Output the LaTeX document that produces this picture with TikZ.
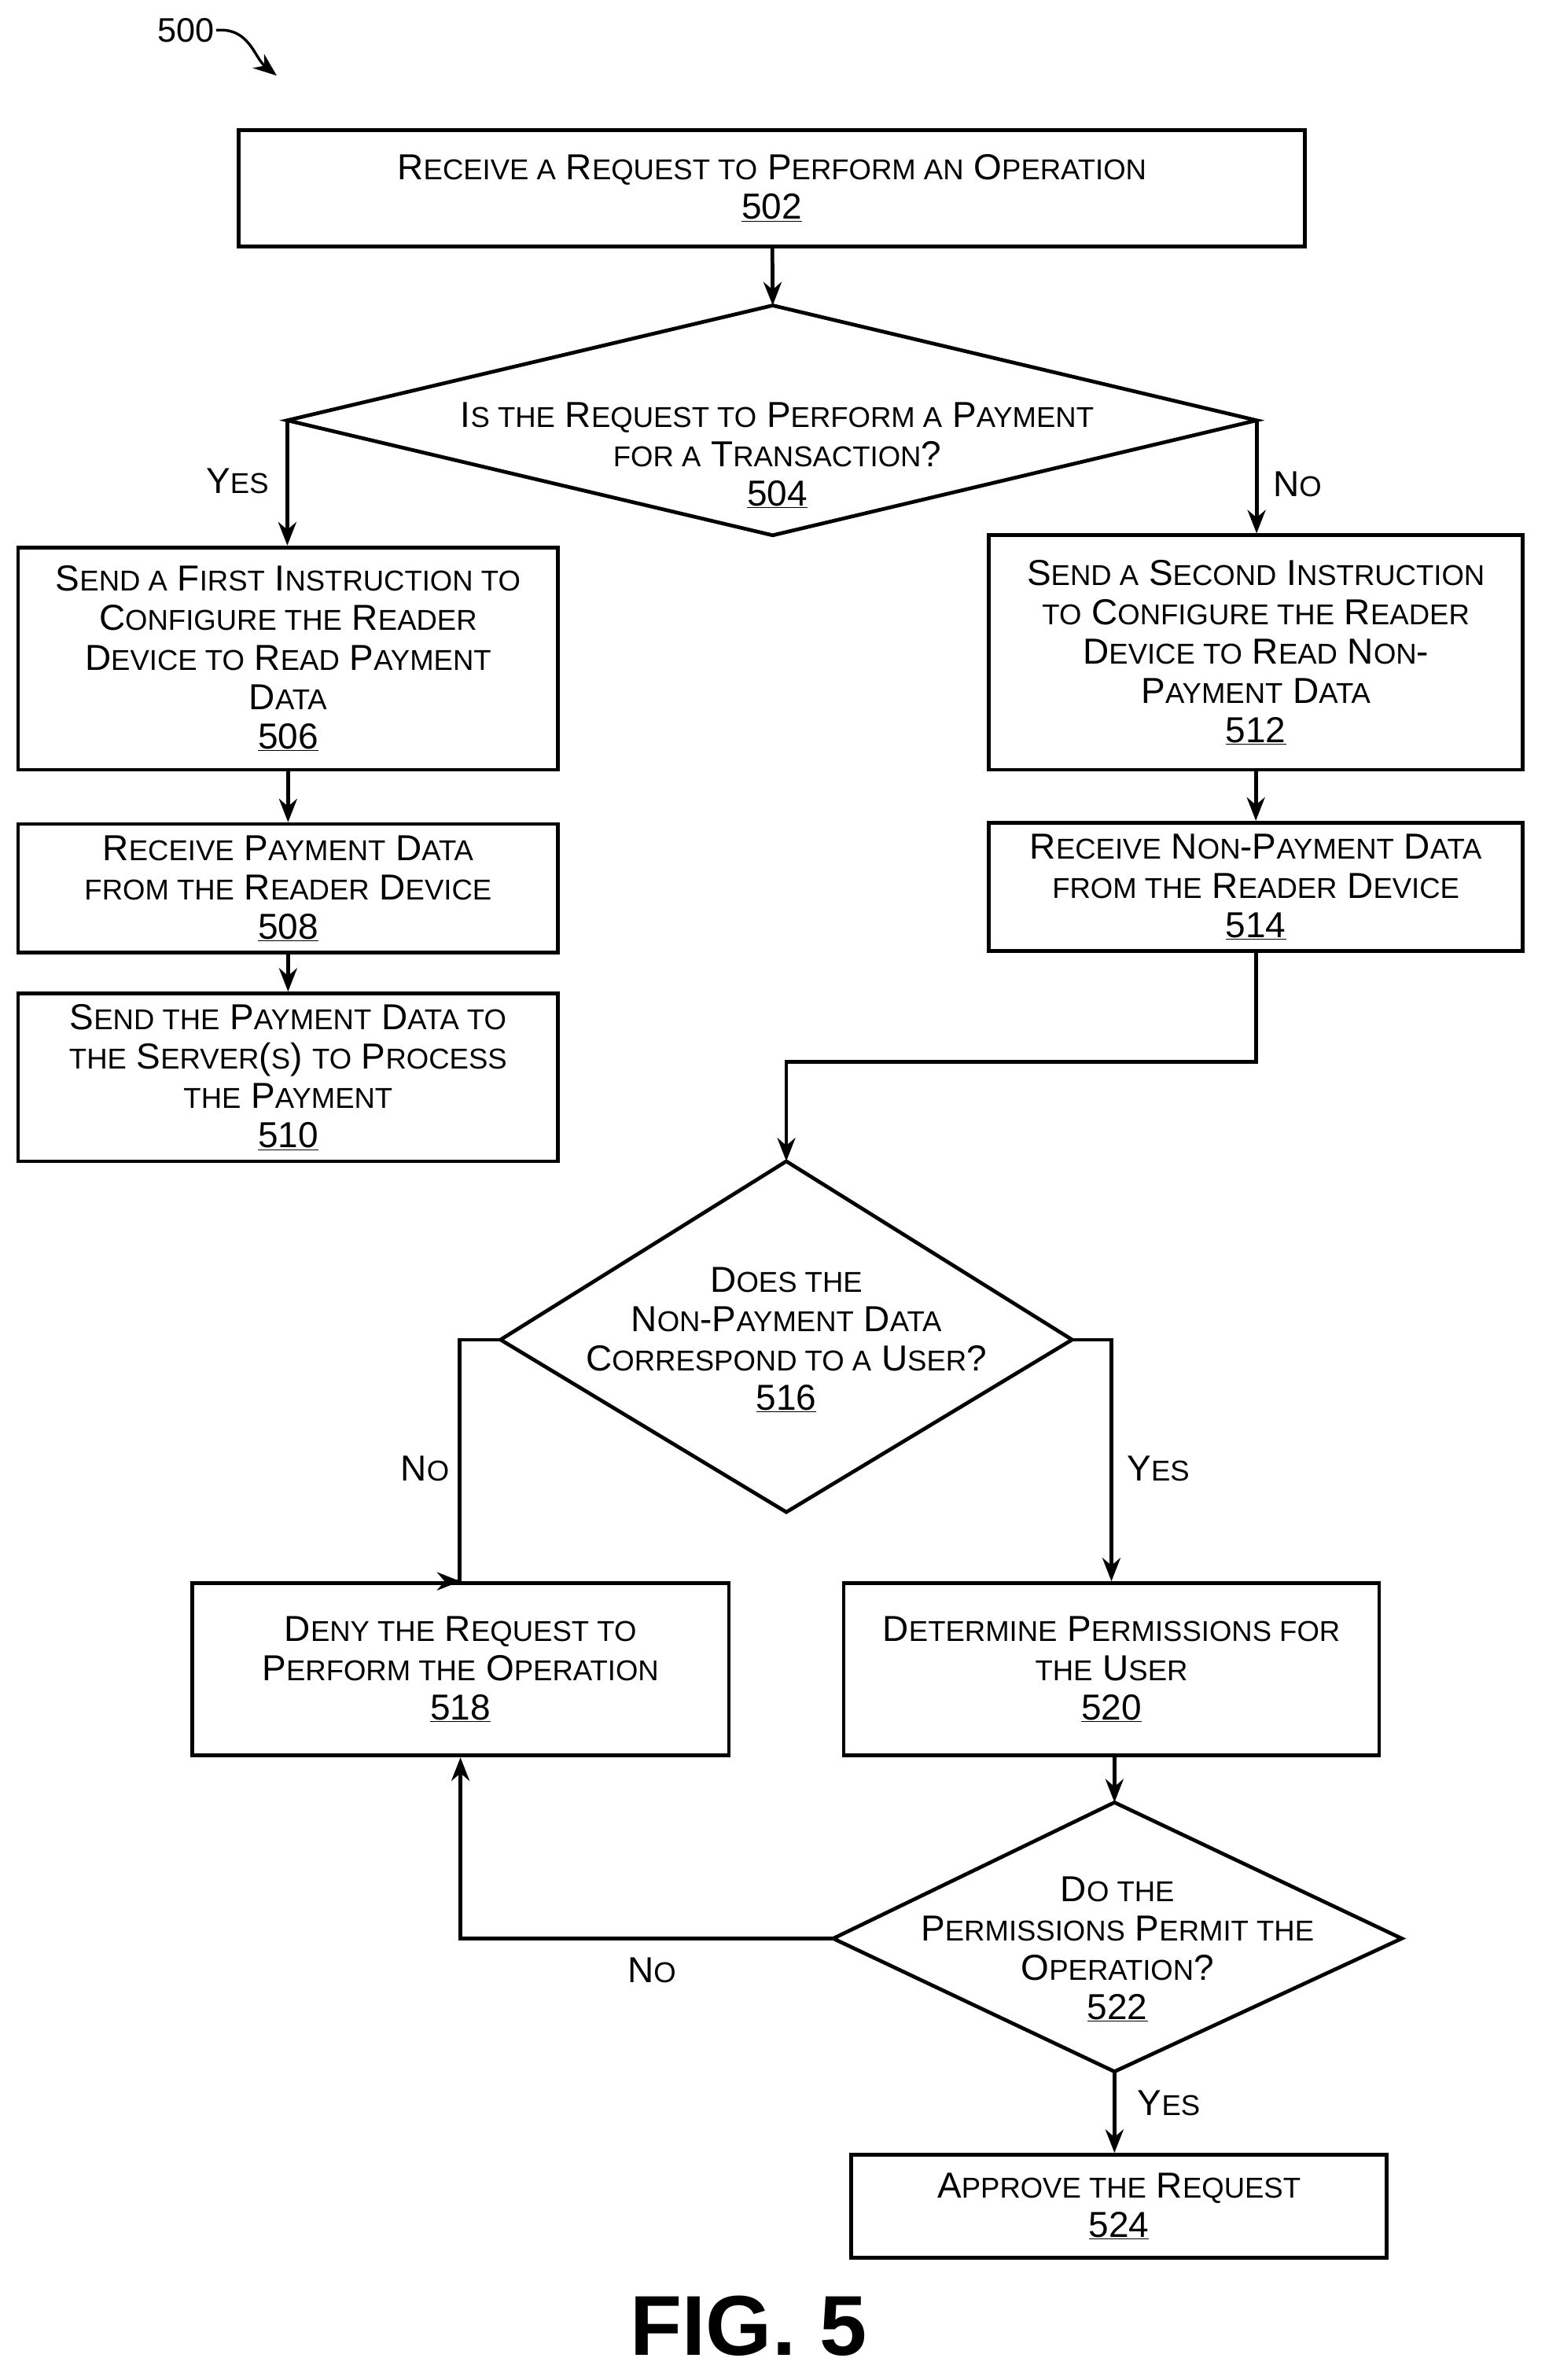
\documentclass[tikz,border=0pt]{standalone}
\usepackage{fontspec}
\setmainfont{Liberation Sans}
\usetikzlibrary{arrows.meta}
\newcommand\sm[1]{{\fontsize{27}{37}\selectfont\uppercase{#1}}}
\def\u{0.05cm}
\begin{document}
\begin{tikzpicture}[x=0.05cm,y=-0.05cm,
  line width=3.5pt,
  arr/.style={-{Stealth[length=22pt,width=17pt]}},
  txt/.style={font=\fontsize{34}{37}\selectfont, align=center, inner sep=0pt},
  box/.style={draw, txt, minimum width=#1},
  lab/.style={font=\fontsize{34}{37}\selectfont, inner sep=0pt}]
\useasboundingbox (0,0) rectangle (1024,1574);
% label 500
\node[font=\fontsize{32}{36}\selectfont, inner sep=0pt] (l500) at (123,20) {500};
\coordinate (l500e) at (183,50);
\draw[arr, line width=2.5pt] (l500.east) .. controls (165,18) and (168,38) .. (l500e);
% boxes
\node[box=705*\u, minimum height=77*\u] (b502) at (510.5,124.5) {R\sm{eceive a} R\sm{equest to} P\sm{erform an} O\sm{peration}\\\underline{502}};
\node[box=357*\u, minimum height=147*\u] (b506) at (190.5,435.5) {S\sm{end a} F\sm{irst} I\sm{nstruction to}\\C\sm{onfigure the} R\sm{eader}\\D\sm{evice to} R\sm{ead} P\sm{ayment}\\D\sm{ata}\\\underline{506}};
\node[box=357*\u, minimum height=85*\u] (b508) at (190.5,587.5) {R\sm{eceive} P\sm{ayment} D\sm{ata}\\\sm{from the} R\sm{eader} D\sm{evice}\\\underline{508}};
\node[box=357*\u, minimum height=111*\u] (b510) at (190.5,712.5) {S\sm{end the} P\sm{ayment} D\sm{ata to}\\\sm{the} S\sm{erver}(\sm{s}) \sm{to} P\sm{rocess}\\\sm{the} P\sm{ayment}\\\underline{510}};
\node[box=353*\u, minimum height=155*\u] (b512) at (830.5,431.5) {S\sm{end a} S\sm{econd} I\sm{nstruction}\\\sm{to} C\sm{onfigure the} R\sm{eader}\\D\sm{evice to} R\sm{ead} N\sm{on}-\\P\sm{ayment} D\sm{ata}\\\underline{512}};
\node[box=353*\u, minimum height=85*\u] (b514) at (830.5,586.5) {R\sm{eceive} N\sm{on}-P\sm{ayment} D\sm{ata}\\\sm{from the} R\sm{eader} D\sm{evice}\\\underline{514}};
\node[box=355*\u, minimum height=114*\u] (b518) at (304.5,1104) {D\sm{eny the} R\sm{equest to}\\P\sm{erform the} O\sm{peration}\\\underline{518}};
\node[box=354*\u, minimum height=114*\u] (b520) at (735,1104) {D\sm{etermine} P\sm{ermissions for}\\\sm{the} U\sm{ser}\\\underline{520}};
\node[box=354*\u, minimum height=68*\u] (b524) at (740,1459) {A\sm{pprove the} R\sm{equest}\\\underline{524}};
% diamond 504
\coordinate (d4t) at (511,202); \coordinate (d4l) at (190,278);
\coordinate (d4r) at (831,278); \coordinate (d4b) at (511,354);
\draw (d4t) -- (d4r) -- (d4b) -- (d4l) -- cycle;
\node[txt] (t504) at (514,301) {I\sm{s the} R\sm{equest to} P\sm{erform a} P\sm{ayment}\\\sm{for a} T\sm{ransaction}?\\\underline{504}};
% diamond 516
\coordinate (d6t) at (520,768); \coordinate (d6l) at (331,886);
\coordinate (d6r) at (709,886); \coordinate (d6b) at (520,1000);
\draw (d6t) -- (d6r) -- (d6b) -- (d6l) -- cycle;
\node[txt] (t516) at (520,886) {D\sm{oes the}\\N\sm{on}-P\sm{ayment} D\sm{ata}\\C\sm{orrespond to a} U\sm{ser}?\\\underline{516}};
% diamond 522
\coordinate (d2t) at (737,1192); \coordinate (d2l) at (551,1282);
\coordinate (d2r) at (927,1282); \coordinate (d2b) at (737,1370);
\draw (d2t) -- (d2r) -- (d2b) -- (d2l) -- cycle;
\node[txt] (t522) at (739,1289) {D\sm{o the}\\P\sm{ermissions} P\sm{ermit the}\\O\sm{peration}?\\\underline{522}};
% connectors
\draw[arr] (b502) -- (d4t);
\draw[arr] (d4l) -- (b506.north -| d4l);
\draw[arr] (d4r) -- (b512.north -| d4r);
\draw[arr] (b506) -- (b508);
\draw[arr] (b508) -- (b510);
\draw[arr] (b512) -- (b514);
\draw[arr] (b514.south) -- ++(0,72) -| (d6t);
\draw[arr] (d6l) -- ++(-27,0) |- (b518.north) ;
\draw[arr] (d6r) -- ++(26,0) -- (b520.north);
\draw[arr] (b520.south -| d2t) -- (d2t);
\draw[arr] (d2l) -| (b518.south);
\draw[arr] (d2b) -- (b524.north -| d2b);
% labels
\node[lab] (yes1) at (157,318) {Y\sm{es}};
\node[lab] (no1) at (858,320) {N\sm{o}};
\node[lab] (no2) at (281,971) {N\sm{o}};
\node[lab] (yes2) at (766,971) {Y\sm{es}};
\node[lab] (no3) at (431,1303) {N\sm{o}};
\node[lab] (yes3) at (773,1391) {Y\sm{es}};
\node[font=\fontsize{80}{90}\selectfont\bfseries, inner sep=0pt] (fig) at (495,1538) {FIG. 5};
\end{tikzpicture}
\end{document}
